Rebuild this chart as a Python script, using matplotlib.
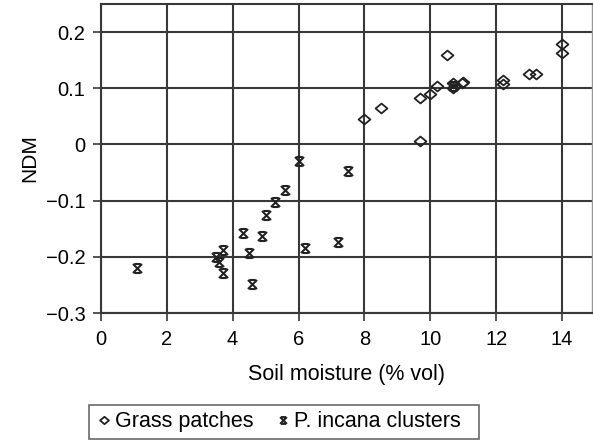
import matplotlib
matplotlib.use('Agg')
import matplotlib.pyplot as plt
from matplotlib.path import Path

plt.rcParams['font.family'] = ['Liberation Sans', 'DejaVu Sans']

# Grass patches (open diamonds)
grass_x = [8.0, 8.5, 9.7, 9.7, 10.0, 10.2, 10.5, 10.7, 10.7, 10.95, 11.0,
           12.2, 12.2, 13.0, 13.2, 14.0, 14.0]
grass_y = [0.046, 0.065, 0.083, 0.007, 0.090, 0.104, 0.159, 0.110, 0.100, 0.109, 0.112,
           0.115, 0.108, 0.125, 0.126, 0.178, 0.162]

# P. incana clusters
incana_x = [1.1, 3.5, 3.6, 3.7, 3.7, 4.3, 4.5, 4.6, 4.9, 5.0, 5.3, 5.6,
            6.0, 6.2, 7.2, 7.5, 10.7]
incana_y = [-0.219, -0.200, -0.209, -0.188, -0.229, -0.157, -0.193, -0.248,
            -0.163, -0.126, -0.103, -0.081, -0.030, -0.184, -0.173, -0.048, 0.104]

x_ticks = [0, 2, 4, 6, 8, 10, 12, 14]
y_ticks = [-0.3, -0.2, -0.1, 0, 0.1, 0.2]
y_labels = ['\u22120.3', '\u22120.2', '\u22120.1', '0', '0.1', '0.2']

# hourglass-like cross marker
verts = [(-1, -1), (1, 1), (-1, 1), (1, -1),
         (-0.7, 1), (0.7, 1), (-0.7, -1), (0.7, -1)]
codes = [Path.MOVETO, Path.LINETO] * 4
hourglass = Path(verts, codes)

# slightly wide diamond
diamond = Path([(0, 1), (1.2, 0), (0, -1), (-1.2, 0), (0, 1)],
               [Path.MOVETO, Path.LINETO, Path.LINETO, Path.LINETO, Path.CLOSEPOLY])

fig = plt.figure(figsize=(5.93, 4.41), dpi=100)
ax = fig.add_axes([0.170, 0.290, 0.828, 0.701])

grid_col = '#383838'
ax.set_axisbelow(True)
ax.grid(True, color=grid_col, linewidth=1.5)

ax.plot(grass_x, grass_y, linestyle='none', marker=diamond, markersize=8.5,
        markerfacecolor='none', markeredgecolor='#222222', markeredgewidth=1.3,
        label='Grass patches')
ax.plot(incana_x, incana_y, linestyle='none', marker=hourglass, markersize=6.5,
        markeredgecolor='#222222', markeredgewidth=1.5, color='#222222',
        label='P. incana clusters  ')

ax.set_xlim(0, 14.9)
ax.set_ylim(-0.3, 0.25)
ax.set_xticks(x_ticks)
ax.set_yticks(y_ticks)
ax.set_yticklabels(y_labels)
ax.tick_params(axis='both', labelsize=14.5, length=6, width=1.2, color=grid_col)
ax.tick_params(axis='y', pad=5)
ax.tick_params(axis='x', pad=6)
for sp in ax.spines.values():
    sp.set_color(grid_col)
    sp.set_linewidth(1.5)
ax.spines['right'].set_color('#999999')
ax.spines['right'].set_linewidth(1.0)

ax.set_xlabel('Soil moisture (% vol)', fontsize=15.5, labelpad=11)
ax.set_ylabel('NDM', fontsize=15, labelpad=5)

leg = fig.legend(loc='lower left', bbox_to_anchor=(0.146, 0.0), ncol=2,
                 fontsize=15.5, frameon=True, fancybox=False, edgecolor='#444444',
                 handletextpad=0.1, columnspacing=1.0, handlelength=0.8,
                 borderpad=0.3, borderaxespad=0.1, markerscale=0.75)
leg.get_frame().set_linewidth(1.2)

plt.savefig('out.png', dpi=100)
